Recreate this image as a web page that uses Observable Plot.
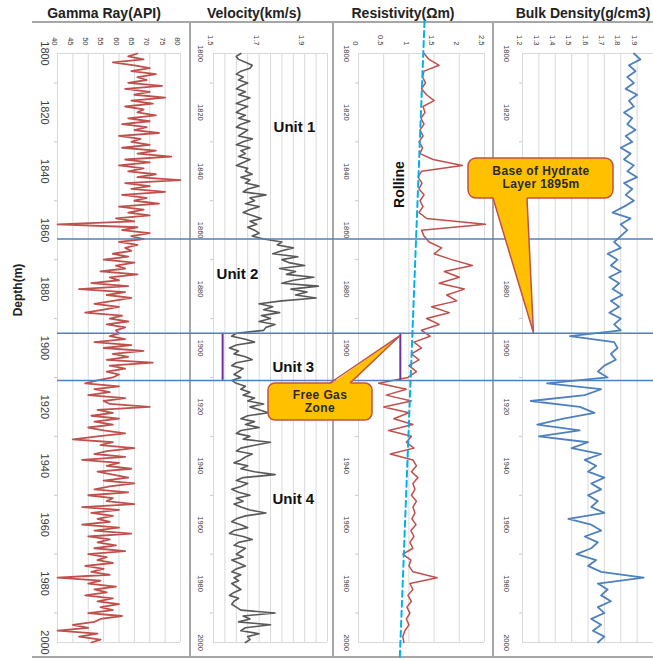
<!DOCTYPE html>
<html><head><meta charset="utf-8">
<script src="https://cdn.jsdelivr.net/npm/d3@7"></script>
<script src="https://cdn.jsdelivr.net/npm/@observablehq/plot@0.6"></script>
<style>
body{margin:0;background:#fff;font-family:"Liberation Sans",Arial,sans-serif;}
#chart{position:relative;width:653px;height:661px;overflow:hidden;background:#fff;}
.title{position:absolute;top:5px;font-weight:bold;font-size:14px;color:#222;white-space:nowrap;transform:translateX(-50%);}
.rule{position:absolute;background:#a6a6a6;}
</style></head><body><div id="chart"></div><script>
// ---------- data ----------
const trackTitles = ["Gamma Ray(API)", "Velocity(km/s)", "Resistivity(Ωm)", "Bulk Density(g/cm3)"];
const depthTicks = [1800,1820,1840,1860,1880,1900,1920,1940,1960,1980,2000];
const minorDepthTicks = [1810,1830,1850,1870,1890,1910,1930,1950,1970,1990];
const gammaTicks = [40,45,50,55,60,65,70,75,80];
const velocityTicks = [1.5,1.7,1.9];
const velocityGrid = [1.5,1.55,1.6,1.65,1.7,1.75,1.8,1.85,1.9,1.95,2.0];
const resistivityTicks = [0,0.5,1,1.5,2,2.5];
const densityTicks = [1.2,1.3,1.4,1.5,1.6,1.7,1.8,1.9];
const densityGrid = [1.2,1.3,1.4,1.5,1.6,1.7,1.8,1.9,2.0];
const boundaries = [1863, 1895, 1911];
const unitLabels = ["Unit 1","Unit 2","Unit 3","Unit 4"];

// gamma ray and velocity, 1 m sampling 1800..2000
const fineDepth = d3.range(1800, 2001, 1);
const gamma = [
 66,63,68,58,65,70,64,72,66,69,
 63,74,62,70,65,75,64,71,62,68,
 66,72,63,70,61,69,65,73,60,67,
 64,70,61,72,66,77,62,70,60,68,
 63,72,66,80,62,70,64,75,61,69,
 65,73,60,68,63,70,59,65,40,66,
 61,70,64,68,60,66,62,64,58,63,
 55,65,59,62,54,66,57,60,51,63,
 47,62,56,64,58,52,60,55,49,61,
 57,63,56,62,59,60,57,62,52,64,
 55,68,58,63,56,71,57,62,56,60,
 58,53,49,60,52,57,50,62,55,57,
 70,53,58,51,60,52,58,50,55,62,
 53,45,58,54,65,56,52,62,48,60,
 56,64,53,58,63,55,65,57,52,63,
 50,58,56,65,48,60,51,58,53,57,
 48,60,52,64,50,57,53,59,52,62,
 50,56,53,58,49,55,51,57,40,54,
 50,59,52,56,49,58,53,60,54,58,
 50,61,54,52,45,50,40,53,47,54,
 51];
const velocity = [
 1.62,1.60,1.61,1.64,1.67,1.66,1.62,1.60,1.63,1.61,
 1.65,1.62,1.60,1.64,1.61,1.66,1.63,1.60,1.65,1.62,
 1.60,1.64,1.61,1.66,1.62,1.60,1.65,1.63,1.61,1.67,
 1.63,1.60,1.66,1.62,1.64,1.61,1.66,1.63,1.60,1.65,
 1.64,1.67,1.62,1.66,1.64,1.70,1.65,1.63,1.73,1.66,
 1.68,1.64,1.70,1.66,1.63,1.67,1.71,1.66,1.69,1.65,
 1.68,1.70,1.67,1.72,1.80,1.78,1.85,1.80,1.76,1.87,
 1.80,1.83,1.90,1.79,1.86,1.82,1.94,1.85,1.80,1.96,
 1.84,1.91,1.86,1.95,1.80,1.70,1.76,1.72,1.79,1.71,
 1.75,1.70,1.77,1.73,1.72,1.60,1.58,1.64,1.68,1.60,
 1.57,1.61,1.59,1.64,1.67,1.60,1.58,1.63,1.61,1.59,
 1.62,1.58,1.60,1.64,1.62,1.66,1.63,1.68,1.65,1.72,
 1.66,1.70,1.74,1.65,1.62,1.68,1.64,1.70,1.62,1.60,
 1.66,1.63,1.75,1.68,1.62,1.60,1.67,1.64,1.62,1.59,
 1.65,1.62,1.68,1.77,1.63,1.60,1.65,1.62,1.58,1.61,
 1.66,1.60,1.63,1.59,1.62,1.66,1.73,1.64,1.60,1.58,
 1.62,1.65,1.59,1.57,1.63,1.67,1.61,1.59,1.64,1.62,
 1.60,1.63,1.58,1.61,1.64,1.60,1.58,1.62,1.59,1.61,
 1.58,1.60,1.62,1.59,1.57,1.61,1.59,1.58,1.60,1.62,
 1.77,1.63,1.66,1.61,1.75,1.64,1.62,1.70,1.65,1.66,
 1.64];

// resistivity, density: 2 m sampling 1800..2000
const logDepth = d3.range(1800, 2001, 2);
const resistivity = [
 1.30,1.40,1.60,1.30,1.27,1.33,1.25,1.35,1.50,1.28,
 1.32,1.24,1.30,1.22,1.28,1.20,1.27,1.22,1.48,2.06,
 1.25,1.18,1.26,1.20,1.30,1.22,1.28,1.20,1.35,2.52,
 1.25,1.30,1.40,1.65,1.50,1.85,2.26,1.70,2.00,1.60,
 2.10,1.75,1.95,1.45,1.80,1.35,1.60,1.25,1.42,1.10,
 1.25,1.05,1.20,1.00,1.15,0.98,0.40,0.95,0.55,1.05,
 0.50,1.00,0.70,1.08,0.60,1.05,0.95,1.10,0.63,1.08,
 1.15,1.05,1.18,1.08,1.12,1.05,1.15,1.08,1.12,1.06,
 1.14,1.04,1.10,1.02,1.08,0.88,1.04,1.00,1.08,1.56,
 1.02,1.08,0.98,1.05,0.96,1.02,0.95,1.00,0.92,0.88,
 0.90];
const density = [
 1.88,1.92,1.85,1.89,1.84,1.88,1.83,1.90,1.85,1.88,
 1.82,1.87,1.84,1.89,1.83,1.87,1.80,1.86,1.82,1.88,
 1.84,1.90,1.82,1.87,1.83,1.88,1.82,1.75,1.86,1.80,
 1.84,1.80,1.76,1.80,1.72,1.78,1.74,1.80,1.73,1.79,
 1.75,1.81,1.74,1.79,1.73,1.80,1.76,1.80,1.49,1.76,
 1.78,1.74,1.77,1.70,1.66,1.72,1.35,1.68,1.58,1.25,
 1.55,1.64,1.45,1.29,1.55,1.30,1.60,1.50,1.68,1.58,
 1.65,1.60,1.70,1.62,1.68,1.60,1.66,1.62,1.70,1.48,
 1.62,1.68,1.58,1.66,1.62,1.53,1.65,1.60,1.68,1.94,
 1.66,1.72,1.68,1.74,1.66,1.70,1.62,1.68,1.63,1.70,
 1.66];
// Roll line (trend) end points: depth, resistivity
const rollDepth = [1789, 2005];
const rollRes = [1.31, 0.82];

// ---------- layout ----------
const FONT = '"Liberation Sans", Arial, sans-serif';
const chart = document.getElementById("chart");
const TOP = 22, H = 636;
const titleX = [104, 254, 403, 583];
trackTitles.forEach((t, i) => {
  const d = document.createElement("div");
  d.className = "title"; d.textContent = t; d.style.left = titleX[i] + "px";
  chart.append(d);
});
function rule(l, t, w, h) {
  const d = document.createElement("div"); d.className = "rule";
  Object.assign(d.style, {left: l + "px", top: t + "px", width: w + "px", height: h + "px"});
  chart.append(d);
}
rule(32, 21, 621, 2); rule(32, 656, 621, 2);
rule(189, 22, 2, 635); rule(332, 22, 2, 635); rule(492, 22, 2, 635);

const dl = document.createElement("div");
dl.textContent = "Depth(m)";
Object.assign(dl.style, {position: "absolute", left: "18px", top: "290px", transform: "translate(-50%,-50%) rotate(-90deg)",
  fontWeight: "bold", fontSize: "12px", color: "#222", whiteSpace: "nowrap"});
chart.append(dl);

const rows = (ds, vs) => ds.map((d, i) => ({depth: d, value: vs[i]}));
const fmt = d => String(d);

function panel({left, width, ml, mr, domain, grid, ticks, depthDx, depthFont, marks}) {
  const p = Plot.plot({
    width, height: H, marginLeft: ml, marginRight: mr, marginTop: 31, marginBottom: 16,
    x: {domain, axis: null},
    y: {domain: [1800, 2000], reverse: true, axis: null},
    style: {background: "transparent", overflow: "visible", fontFamily: FONT},
    marks: [
      Plot.ruleX(grid, {stroke: "#d9d9d9", strokeWidth: 1}),
      Plot.ruleY([1800, 2000], {stroke: "#d9d9d9", strokeWidth: 1}),
      Plot.ruleY(minorDepthTicks, {x1: domain[0], x2: domain[0], insetLeft: -3, stroke: "#c8c8c8"}),
      Plot.text(ticks, {x: d => d, text: fmt, frameAnchor: "top", dy: -8, rotate: 90, textAnchor: "end",
        fontSize: 7.5, fill: "#404040"}),
      Plot.text(depthTicks, {y: d => d, text: fmt, frameAnchor: "left", dx: depthDx, rotate: 90,
        textAnchor: "middle", fontSize: depthFont, fill: "#404040"}),
      ...marks,
      Plot.ruleY(boundaries, {stroke: "#4F81BD", strokeWidth: 1.5, insetLeft: left === 0 ? 0 : -ml, insetRight: -mr})
    ]
  });
  Object.assign(p.style, {position: "absolute", left: left + "px", top: TOP + "px"});
  chart.append(p);
  return p;
}

const p1 = panel({left: 0, width: 190, ml: 57, mr: 10, domain: [40, 80], grid: gammaTicks, ticks: gammaTicks,
  depthDx: -13, depthFont: 11,
  marks: [Plot.line(rows(fineDepth, gamma), {x: "value", y: "depth", stroke: "#C0504D", strokeWidth: 1.8})]});

const p2 = panel({left: 190, width: 143, ml: 23, mr: 6, domain: [1.5, 2.0], grid: velocityGrid, ticks: velocityTicks,
  depthDx: -13, depthFont: 7.5,
  marks: [
    Plot.line(rows(fineDepth, velocity), {x: "value", y: "depth", stroke: "#595959", strokeWidth: 1.6}),
    Plot.ruleX([1.54], {y1: boundaries[1], y2: boundaries[2], stroke: "#7030A0", strokeWidth: 2}),
    Plot.text([unitLabels[0]], {x: 1.855, y: 1825, text: d => d, fontSize: 15, fontWeight: "bold", fill: "#111"}),
    Plot.text([unitLabels[1]], {x: 1.605, y: 1875, text: d => d, fontSize: 15, fontWeight: "bold", fill: "#111"}),
    Plot.text([unitLabels[2]], {x: 1.85, y: 1906.5, text: d => d, fontSize: 15, fontWeight: "bold", fill: "#111"}),
    Plot.text([unitLabels[3]], {x: 1.85, y: 1951.5, text: d => d, fontSize: 15, fontWeight: "bold", fill: "#111"})
  ]});

const p3 = panel({left: 333, width: 160, ml: 25, mr: 9, domain: [0, 2.5], grid: resistivityTicks, ticks: resistivityTicks,
  depthDx: -12, depthFont: 7.5,
  marks: [
    Plot.line(rows(logDepth, resistivity), {x: "value", y: "depth", stroke: "#C0504D", strokeWidth: 1.5}),
    Plot.line(rows(rollDepth, rollRes), {x: "value", y: "depth", stroke: "#00B0F0", strokeWidth: 2, strokeDasharray: "6,4"}),
    Plot.ruleX([0.83], {y1: boundaries[1], y2: boundaries[2], stroke: "#7030A0", strokeWidth: 2}),
    Plot.text(["Rolline"], {x: 0.81, y: 1844.5, text: d => d, rotate: -90, fontSize: 14, fontWeight: "bold", fill: "#111"})
  ]});

const p4 = panel({left: 493, width: 160, ml: 29, mr: 0, domain: [1.2, 2.0], grid: densityGrid, ticks: densityTicks,
  depthDx: -16, depthFont: 7.5,
  marks: [Plot.line(rows(logDepth, density), {x: "value", y: "depth", stroke: "#4F81BD", strokeWidth: 1.8})]});

// ---------- callouts ----------
const ov = d3.select(chart).append("svg").attr("width", 653).attr("height", 661)
  .style("position", "absolute").style("left", "0px").style("top", "0px").style("font-family", FONT);
function callout({x, y, w, h, r, b1, b2, tip, top, lines, tx, ty}) {
  const g = ov.append("g");
  g.append("rect").attr("x", x).attr("y", y).attr("width", w).attr("height", h).attr("rx", r)
    .attr("fill", "#FFC000").attr("stroke", "#C0504D").attr("stroke-width", 1.5);
  const by = top ? y + 1.5 : y + h - 1.5;
  const bb = top ? y : y + h;
  g.append("polygon").attr("points", `${b1},${by} ${tip[0]},${tip[1]} ${b2},${by}`).attr("fill", "#FFC000");
  g.append("polyline").attr("points", `${b1},${bb} ${tip[0]},${tip[1]} ${b2},${bb}`)
    .attr("fill", "none").attr("stroke", "#C0504D").attr("stroke-width", 1.5);
  lines.forEach((t, i) => g.append("text").attr("x", tx).attr("y", ty + i * 13).attr("text-anchor", "middle")
    .attr("dominant-baseline", "middle").attr("font-size", 12).attr("font-weight", "bold")
    .attr("letter-spacing", 0.4).attr("fill", "#2a2a2a").text(t));
}
const hydTip = [493 + p4.scale("x").apply(1.27), TOP + p4.scale("y").apply(boundaries[1])];
callout({x: 468, y: 158, w: 145, h: 40, r: 8, b1: 493, b2: 527, tip: hydTip, top: false,
  lines: ["Base of Hydrate", "Layer 1895m"], tx: 541, ty: 172});
const gasTip = [333 + p3.scale("x").apply(0.83), TOP + p3.scale("y").apply(1896)];
callout({x: 268, y: 383, w: 104, h: 37, r: 7, b1: 330, b2: 350, tip: gasTip, top: true,
  lines: ["Free Gas", "Zone"], tx: 320, ty: 396});
</script></body></html>
